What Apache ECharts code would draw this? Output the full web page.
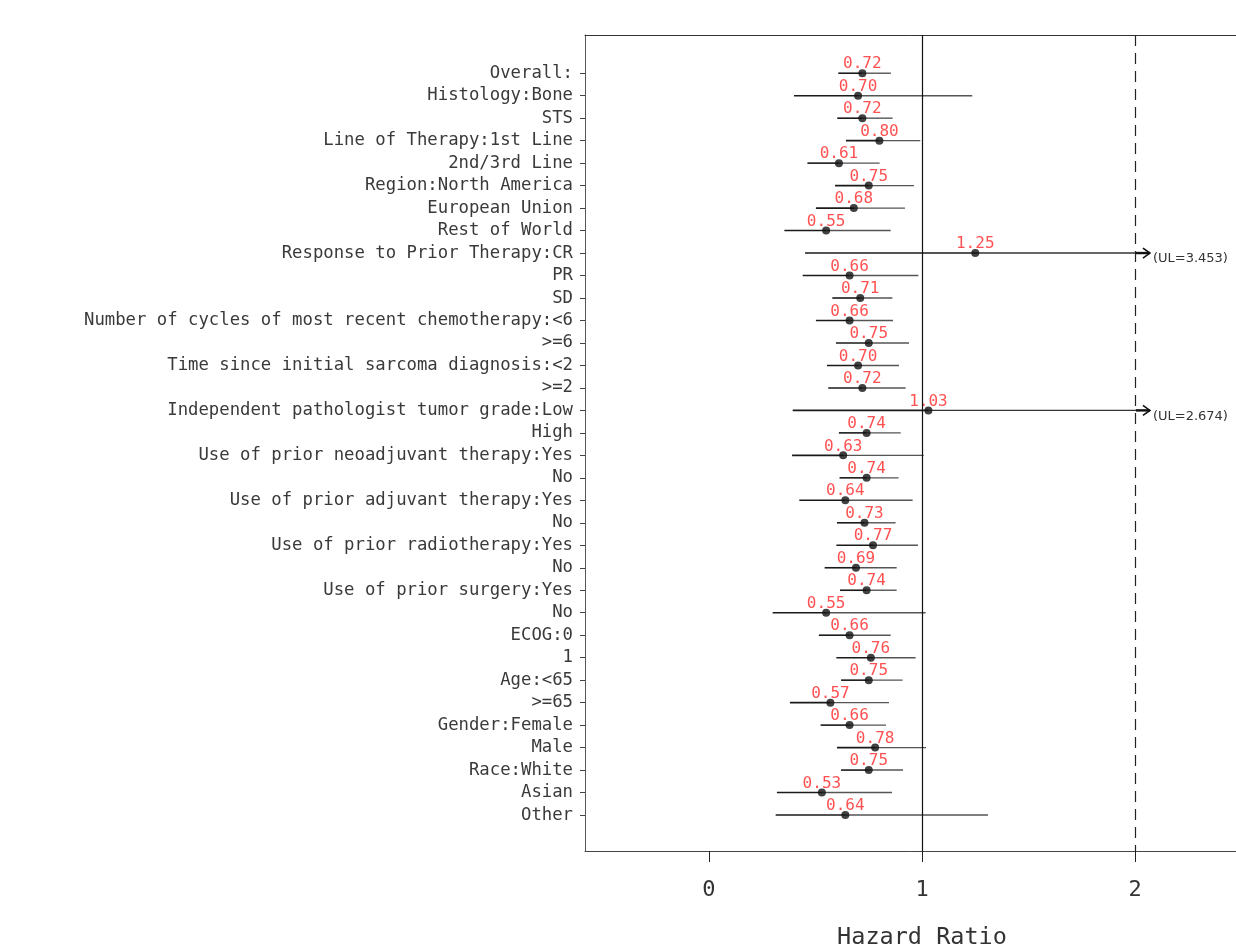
<!DOCTYPE html>
<html>
<head>
<meta charset="utf-8">
<title>Hazard Ratio by Subgroup</title>
<script src="https://cdn.jsdelivr.net/npm/echarts@6/dist/echarts.min.js"></script>
<style>
  html, body { margin: 0; padding: 0; background: #ffffff; }
  #chart { width: 1236px; height: 949px; }
</style>
</head>
<body>
<div id="chart"></div>
<script>
// Subgroup rows, top to bottom
const rowLabels = [
  'Overall:',
  'Histology:Bone',
  'STS',
  'Line of Therapy:1st Line',
  '2nd/3rd Line',
  'Region:North America',
  'European Union',
  'Rest of World',
  'Response to Prior Therapy:CR',
  'PR',
  'SD',
  'Number of cycles of most recent chemotherapy:<6',
  '>=6',
  'Time since initial sarcoma diagnosis:<2',
  '>=2',
  'Independent pathologist tumor grade:Low',
  'High',
  'Use of prior neoadjuvant therapy:Yes',
  'No',
  'Use of prior adjuvant therapy:Yes',
  'No',
  'Use of prior radiotherapy:Yes',
  'No',
  'Use of prior surgery:Yes',
  'No',
  'ECOG:0',
  '1',
  'Age:<65',
  '>=65',
  'Gender:Female',
  'Male',
  'Race:White',
  'Asian',
  'Other'
];

// Hazard ratio point estimates
const hazardRatio = [
  0.72, 0.70, 0.72, 0.80, 0.61, 0.75, 0.68, 0.55, 1.25, 0.66,
  0.71, 0.66, 0.75, 0.70, 0.72, 1.03, 0.74, 0.63, 0.74, 0.64,
  0.73, 0.77, 0.69, 0.74, 0.55, 0.66, 0.76, 0.75, 0.57, 0.66,
  0.78, 0.75, 0.53, 0.64
];

// 95% confidence limits
const lowerCI = [
  0.607, 0.399, 0.602, 0.643, 0.462, 0.592, 0.502, 0.354, 0.451, 0.440,
  0.579, 0.502, 0.596, 0.554, 0.560, 0.393, 0.610, 0.390, 0.613, 0.424,
  0.601, 0.598, 0.543, 0.615, 0.299, 0.516, 0.598, 0.620, 0.380, 0.524,
  0.601, 0.620, 0.319, 0.313
];
const upperCI = [
  0.854, 1.236, 0.862, 0.992, 0.801, 0.962, 0.920, 0.853, 3.453, 0.983,
  0.861, 0.864, 0.939, 0.892, 0.923, 2.674, 0.900, 1.008, 0.890, 0.956,
  0.876, 0.981, 0.881, 0.881, 1.017, 0.853, 0.970, 0.909, 0.845, 0.831,
  1.019, 0.911, 0.859, 1.310
];

// x-axis ticks and reference lines
const xTicks = [0, 1, 2];
const nullLine = 1;
const dashedLine = 2;
// Upper limits beyond this value are drawn as an arrow with the limit printed
const arrowCap = 2.07;

const rowIndex = rowLabels.map((_, i) => i);

const ciData = rowLabels.map((_, i) => [i, lowerCI[i], hazardRatio[i], upperCI[i]]);
const pointData = rowLabels.map((_, i) => [hazardRatio[i], i]);

const monoFont = '"DejaVu Sans Mono", "Liberation Mono", monospace';

function renderCI(params, api) {
  const row = api.value(0);
  const lo = api.value(1);
  const hr = api.value(2);
  const hi = api.value(3);
  const truncated = hi > arrowCap;
  const pLo = api.coord([lo, row]);
  const pHr = api.coord([hr, row]);
  const pHi = api.coord([truncated ? arrowCap : hi, row]);
  const children = [
    {
      type: 'line',
      shape: { x1: pLo[0], y1: pLo[1], x2: pHr[0], y2: pHr[1] },
      style: { stroke: '#1a1a1a', lineWidth: 1.6 }
    },
    {
      type: 'line',
      shape: { x1: pHr[0], y1: pHr[1], x2: pHi[0], y2: pHi[1] },
      style: { stroke: truncated ? '#333' : '#555', lineWidth: 1.4 }
    }
  ];
  if (truncated) {
    const x = pHi[0], y = pHi[1];
    children.push({
      type: 'line',
      shape: { x1: x - 14, y1: y, x2: x, y2: y },
      style: { stroke: '#111', lineWidth: 2.4 }
    });
    children.push({
      type: 'polyline',
      shape: { points: [[x - 7, y - 5], [x, y], [x - 7, y + 5]] },
      style: { stroke: '#111', lineWidth: 1.6, fill: null }
    });
    children.push({
      type: 'text',
      x: x + 3,
      y: y + 6,
      style: {
        text: '(UL=' + hi.toFixed(3) + ')',
        fill: '#333',
        font: '13px "DejaVu Sans", sans-serif',
        textAlign: 'left',
        textVerticalAlign: 'middle'
      }
    });
  }
  return { type: 'group', children: children };
}

const chart = echarts.init(document.getElementById('chart'), null, { renderer: 'canvas' });

chart.setOption({
  backgroundColor: '#ffffff',
  animation: false,
  grid: { left: 585, top: 35, width: 674, height: 816, outerBoundsMode: 'none', containLabel: false },
  xAxis: [
    {
      type: 'value',
      position: 'bottom',
      min: -0.582,
      max: 2.582,
      splitLine: { show: false },
      axisLine: { show: true, onZero: false, lineStyle: { color: '#444', width: 1 } },
      axisTick: { show: true, inside: false, length: 11, customValues: xTicks, lineStyle: { color: '#222', width: 1 } },
      axisLabel: {
        customValues: xTicks,
        margin: 28,
        fontFamily: monoFont,
        fontSize: 22,
        color: '#333',
        formatter: v => String(v)
      },
      name: 'Hazard Ratio',
      nameLocation: 'middle',
      nameGap: 75,
      nameTextStyle: { fontFamily: monoFont, fontSize: 23.5, color: '#333' }
    },
    {
      type: 'value',
      position: 'top',
      min: -0.582,
      max: 2.582,
      splitLine: { show: false },
      axisLine: { show: true, onZero: false, lineStyle: { color: '#333', width: 1 } },
      axisTick: { show: false },
      axisLabel: { show: false }
    }
  ],
  yAxis: {
    type: 'value',
    inverse: true,
    min: -1.7,
    max: 34.6,
    splitLine: { show: false },
    axisLine: { show: true, onZero: false, lineStyle: { color: '#555', width: 1 } },
    axisTick: { show: true, inside: false, length: 5, customValues: rowIndex, lineStyle: { color: '#444' } },
    axisLabel: {
      customValues: rowIndex,
      margin: 12,
      fontFamily: monoFont,
      fontSize: 17.3,
      color: '#3a3a3a',
      formatter: v => rowLabels[Math.round(v)] || ''
    }
  },
  series: [
    {
      type: 'custom',
      name: 'CI',
      renderItem: renderCI,
      encode: { x: [1, 2, 3], y: 0 },
      data: ciData,
      z: 2,
      markLine: {
        silent: true,
        symbol: 'none',
        label: { show: false },
        data: [
          { xAxis: nullLine, lineStyle: { color: '#111', width: 1.2, type: 'solid' } },
          { xAxis: dashedLine, lineStyle: { color: '#222', width: 1.2, type: [11, 7] } }
        ]
      }
    },
    {
      type: 'scatter',
      name: 'Hazard Ratio',
      data: pointData,
      symbol: 'circle',
      symbolSize: 8,
      itemStyle: { color: '#111' },
      z: 3,
      label: {
        show: true,
        position: 'top',
        distance: -3,
        fontFamily: monoFont,
        fontSize: 16,
        color: '#ff2626',
        formatter: p => p.value[0].toFixed(2)
      }
    }
  ]
});
</script>
</body>
</html>
